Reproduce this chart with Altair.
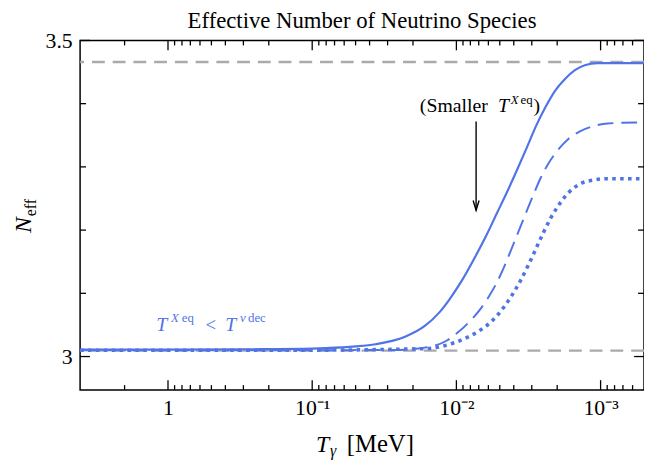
import altair as alt
import pandas as pd

FONT = "Liberation Serif"
BLUE = "#5074e8"
GRAY = "#aaaaaa"
W, H = 571, 354

# ---------------- data ----------------
solid_T = [4.07, 1.0, 0.283, 0.1, 0.0802, 0.05, 0.03644, 0.02271, 0.01656, 0.01307, 0.01116,
           0.00924, 0.00753, 0.00623, 0.00524, 0.00447, 0.00382, 0.00326, 0.00279,
           0.00242, 0.00207, 0.001765, 0.001507, 0.001287, 0.001048, 0.0005]
solid_N = [3.011, 3.011, 3.0115, 3.0125, 3.0132, 3.016, 3.0195, 3.0313, 3.0484, 3.0703, 3.0906,
           3.1188, 3.1547, 3.1906, 3.2266, 3.2594, 3.2938, 3.3297, 3.3656,
           3.3938, 3.4203, 3.4391, 3.4531, 3.4609, 3.4641, 3.4641]

dashed_T = [4.07, 0.1288, 0.0266, 0.01656, 0.01415, 0.01171, 0.00984, 0.00815, 0.00674,
            0.00594, 0.00524, 0.00469, 0.0042, 0.0037, 0.00326, 0.00292, 0.00262,
            0.00231, 0.00203, 0.00168, 0.00139, 0.001134, 0.000896, 0.0005]
dashed_N = [3.010, 3.010, 3.0105, 3.0141, 3.0172, 3.025, 3.0375, 3.0547, 3.0766,
            3.0953, 3.1172, 3.1406, 3.1672, 3.1984, 3.2297, 3.2563, 3.2813,
            3.3047, 3.3234, 3.3438, 3.3563, 3.3641, 3.3688, 3.3703]

dotted_T = [4.07, 0.1288, 0.01656, 0.01208, 0.00881, 0.00696, 0.00576, 0.00492, 0.0042,
            0.00359, 0.00316, 0.00279, 0.0025, 0.00224, 0.002, 0.001765, 0.001555,
            0.001328, 0.001134, 0.000924, 0.0005]
dotted_N = [3.010, 3.010, 3.0125, 3.0172, 3.0281, 3.0406, 3.0547, 3.0719, 3.0938,
            3.1203, 3.1453, 3.1719, 3.1953, 3.2172, 3.2359, 3.2531, 3.2656,
            3.275, 3.2789, 3.2813, 3.2813]

ref_levels = [3.466, 3.0094]

x_domain = [0.0005, 4.07]
y_domain = [2.947, 3.5]
x_major = [1, 0.1, 0.01, 0.001]
x_major_labels = ["1", "10⁻¹", "10⁻²", "10⁻³"]
x_minor = [2,
           0.9, 0.8, 0.7, 0.6, 0.5, 0.4, 0.3, 0.2,
           0.09, 0.08, 0.07, 0.06, 0.05, 0.04, 0.03, 0.02,
           0.009, 0.008, 0.007, 0.006, 0.005, 0.004, 0.003, 0.002,
           0.0009, 0.0008, 0.0007, 0.0006]
y_major = [3.0, 3.5]
y_major_labels = ["3", "3.5"]
y_minor = [3.1, 3.2, 3.3, 3.4]

arrow_T = 0.0073
arrow_N = [3.3719, 3.2313]
smaller_anchor = (0.01792, 3.3875)
blue_anchor = (1.208, 3.0406)

# ---------------- scales / axes ----------------
xs = alt.Scale(type="log", domain=x_domain, reverse=True, nice=False)
ys = alt.Scale(domain=y_domain, nice=False, zero=False)

xlab_expr = " : ".join(
    [f"datum.value > {v * 0.5} ? '{l}'" for v, l in zip(x_major[:-1], x_major_labels[:-1])]
) + f" : '{x_major_labels[-1]}'"
ylab_expr = f"datum.value < 3.25 ? '{y_major_labels[0]}' : '{y_major_labels[1]}'"

x_axis = alt.Axis(values=x_major, labelExpr=xlab_expr, ticks=False, domain=False, grid=False,
                  labelFont=FONT, labelFontSize=22, labelColor="black", labelPadding=8,
                  title=None, labelFlush=False, labelOverlap=False)
y_axis = alt.Axis(values=y_major, labelExpr=ylab_expr, ticks=False,
                  domain=False, grid=False, labelFont=FONT, labelFontSize=22,
                  labelColor="black", labelPadding=8, title=None, labelFlush=False,
                  labelOverlap=False)


def X(field):
    return alt.X(field, scale=xs, axis=x_axis)


def Y(field):
    return alt.Y(field, scale=ys, axis=y_axis)


def curve(T, N, **kw):
    df = pd.DataFrame({"T": T, "N": N})
    return alt.Chart(df).mark_line(color=BLUE, interpolate="monotone", clip=True, **kw).encode(
        x=X("T:Q"), y=Y("N:Q"))


solid = curve(solid_T, solid_N, strokeWidth=2.2)
dashed = curve(dashed_T, dashed_N, strokeWidth=2.0, strokeDash=[16, 8])
dotted = curve(dotted_T, dotted_N, strokeWidth=3.6, strokeDash=[3.6, 4.4], strokeCap="butt")

gray = alt.Chart(pd.DataFrame({"N": ref_levels})).mark_rule(
    color=GRAY, strokeWidth=2.4, strokeDash=[13, 8]
).encode(y=Y("N:Q"))


def xticks(vals, length):
    df = pd.DataFrame({"v": vals})
    top = alt.Chart(df).mark_rule(color="black", strokeWidth=1.3).encode(
        x=X("v:Q"), y=alt.value(0), y2=alt.value(length))
    bot = alt.Chart(df).mark_rule(color="black", strokeWidth=1.3).encode(
        x=X("v:Q"), y=alt.value(H), y2=alt.value(H - length))
    return [top, bot]


def yticks(vals, length):
    df = pd.DataFrame({"v": vals})
    left = alt.Chart(df).mark_rule(color="black", strokeWidth=1.3).encode(
        y=Y("v:Q"), x=alt.value(0), x2=alt.value(length))
    right = alt.Chart(df).mark_rule(color="black", strokeWidth=1.3).encode(
        y=Y("v:Q"), x=alt.value(W), x2=alt.value(W - length))
    return [left, right]


tick_layers = xticks(x_major, 10) + xticks(x_minor, 5) + yticks(y_major, 10) + yticks(y_minor, 6)


def ptxt(text, x, y, size, style="normal", angle=0, align="left", color="black"):
    return alt.Chart(pd.DataFrame({"t": [text]})).mark_text(
        align=align, baseline="alphabetic", font=FONT, fontSize=size, fontStyle=style,
        angle=angle, color=color
    ).encode(x=alt.value(x), y=alt.value(y), text="t:N")


def atxt(text, anchor, dx, dy, size, style="normal", color="black"):
    return alt.Chart(pd.DataFrame({"T": [anchor[0]], "N": [anchor[1]], "t": [text]})).mark_text(
        align="left", baseline="alphabetic", font=FONT, fontSize=size, fontStyle=style,
        color=color, dx=dx, dy=dy
    ).encode(x=X("T:Q"), y=Y("N:Q"), text="t:N")


texts = [
    ptxt("Effective Number of Neutrino Species", W / 2, -13, 23, align="center"),
    # x-axis title  T_gamma [MeV]
    ptxt("T", 239, 417, 24, "italic"),
    ptxt("γ", 253, 421, 16, "italic"),
    ptxt("[MeV]", 270, 417, 25),
    # y-axis title  N_eff
    ptxt("N", -50, 195, 24, "italic", angle=270),
    ptxt("eff", -45, 178, 16, angle=270),
    # (Smaller T^{X eq})
    atxt("(Smaller", smaller_anchor, 0, 0, 20),
    atxt("T", smaller_anchor, 79, 0, 20, "italic"),
    atxt("X", smaller_anchor, 92, -8, 13, "italic"),
    atxt("eq", smaller_anchor, 102, -8, 13),
    atxt(")", smaller_anchor, 115, 0, 20),
    # T^{X eq} < T^{nu dec}
    atxt("T", blue_anchor, 0, 0, 20, "italic", BLUE),
    atxt("X", blue_anchor, 15, -9, 13, "italic", BLUE),
    atxt("eq", blue_anchor, 26, -9, 13, color=BLUE),
    atxt("<", blue_anchor, 50, 0, 19, color=BLUE),
    atxt("T", blue_anchor, 70, 0, 20, "italic", BLUE),
    atxt("ν", blue_anchor, 85, -9, 13, "italic", BLUE),
    atxt("dec", blue_anchor, 93, -9, 13, color=BLUE),
]

arrow_df = pd.DataFrame({"T": [arrow_T], "N1": [arrow_N[0]], "N2": [arrow_N[1]]})
arrow_line = alt.Chart(arrow_df).mark_rule(color="black", strokeWidth=1.4).encode(
    x=X("T:Q"), y=Y("N1:Q"), y2="N2:Q")
arrow_head = alt.Chart(arrow_df).mark_point(
    shape="M-0.6,-2L0,0L0.6,-2", size=100, filled=False, stroke="black", strokeWidth=1.4, opacity=1
).encode(x=X("T:Q"), y=Y("N2:Q"))

chart = alt.layer(
    gray, solid, dashed, dotted, *tick_layers, arrow_line, arrow_head, *texts
).properties(
    width=W, height=H,
    autosize=alt.AutoSizeParams(type="none"),
    padding={"left": 73, "top": 30, "right": 0, "bottom": 70},
    background="white",
).configure_view(stroke="black", strokeWidth=1.5)

chart.save("out.html", embed_options={"renderer": "svg", "actions": False})
